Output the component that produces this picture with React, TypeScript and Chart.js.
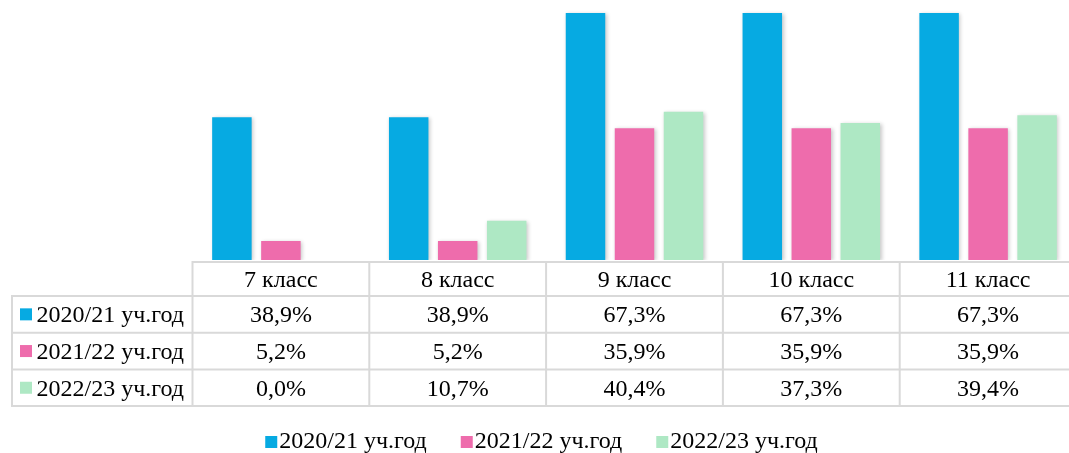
import React, { useEffect, useRef } from "react";
import { Chart, registerables } from "chart.js";

Chart.register(...registerables);

const categories = ["7 класс", "8 класс", "9 класс", "10 класс", "11 класс"];
const seriesLabels = ["2020/21 уч.год", "2021/22 уч.год", "2022/23 уч.год"];
const series2020 = [38.9, 38.9, 67.3, 67.3, 67.3];
const series2021 = [5.2, 5.2, 35.9, 35.9, 35.9];
const series2022 = [0.0, 10.7, 40.4, 37.3, 39.4];
const seriesColors = ["#06AAE2", "#EE6CAC", "#AEE8C4"];

const FONT = '"Liberation Serif", "Times New Roman", serif';
const fmt = (v: number) => v.toFixed(1).replace(".", ",") + "%";

const shadowPlugin = {
  id: "barShadow",
  beforeDatasetsDraw(chart: any) {
    const ctx = chart.ctx;
    ctx.save();
    ctx.shadowColor = "rgba(0,0,0,0.22)";
    ctx.shadowBlur = 4;
    ctx.shadowOffsetX = 1.5;
    ctx.shadowOffsetY = 1;
  },
  afterDatasetsDraw(chart: any) {
    chart.ctx.restore();
  },
};

const tablePlugin = {
  id: "dataTable",
  afterDraw(chart: any) {
    const ctx = chart.ctx;
    const xs = chart.scales.x;
    const n = categories.length;
    const colW = (chart.chartArea.right - chart.chartArea.left) / n;
    const top = 262;
    const headH = 34;
    const rowH = 36.7;
    const labelLeft = 12;
    const tableRight = chart.width;
    const rows = [series2020, series2021, series2022];
    const bottom = top + headH + rows.length * rowH;

    ctx.save();
    ctx.strokeStyle = "#d9d9d9";
    ctx.lineWidth = 2;
    ctx.beginPath();
    ctx.moveTo(chart.chartArea.left - 1, top);
    ctx.lineTo(tableRight, top);
    for (let r = 0; r <= rows.length; r++) {
      const y = top + headH + r * rowH;
      ctx.moveTo(labelLeft - 1, y);
      ctx.lineTo(tableRight, y);
    }
    ctx.moveTo(labelLeft, top + headH);
    ctx.lineTo(labelLeft, bottom);
    for (let i = 0; i <= n; i++) {
      const xx = i === n ? xs.getPixelForValue(n - 1) + colW / 2 : xs.getPixelForValue(i) - colW / 2;
      ctx.moveTo(xx, top);
      ctx.lineTo(xx, bottom);
    }
    ctx.stroke();

    ctx.fillStyle = "#000";
    ctx.textAlign = "center";
    ctx.textBaseline = "alphabetic";
    const fs = 24;
    ctx.font = `${fs}px ${FONT}`;
    for (let i = 0; i < n; i++) {
      const cx = xs.getPixelForValue(i);
      ctx.fillText(categories[i], cx, top + headH / 2 + 0.33 * fs);
      rows.forEach((vals, r) => {
        const cy = top + headH + r * rowH + rowH / 2;
        ctx.fillText(fmt(vals[i]), cx, cy + 0.33 * fs);
      });
    }
    ctx.textAlign = "left";
    rows.forEach((_, r) => {
      const cy = top + headH + r * rowH + rowH / 2;
      ctx.fillStyle = seriesColors[r];
      ctx.fillRect(20, cy - 6, 12, 12);
      ctx.fillStyle = "#000";
      ctx.fillText(seriesLabels[r], 36.5, cy + 0.33 * fs);
    });

    // legend
    const lfs = 24;
    ctx.font = `${lfs}px ${FONT}`;
    const gap = 34;
    const widths = seriesLabels.map((l) => 12 + 2 + ctx.measureText(l).width);
    const total = widths.reduce((a, b) => a + b, 0) + gap * (widths.length - 1);
    let x = 541.5 - total / 2;
    const ly = 442;
    seriesLabels.forEach((l, k) => {
      ctx.fillStyle = seriesColors[k];
      ctx.fillRect(x, ly - 6, 12, 12);
      ctx.fillStyle = "#000";
      ctx.fillText(l, x + 14, 447.7);
      x += widths[k] + gap;
    });
    ctx.restore();
  },
};

export default function App() {
  const ref = useRef<HTMLCanvasElement | null>(null);
  useEffect(() => {
    document.body.style.margin = "0";
    if (!ref.current) return;
    const chart = new Chart(ref.current, {
      type: "bar",
      data: {
        labels: categories,
        datasets: [series2020, series2021, series2022].map((d, k) => ({
          label: seriesLabels[k],
          data: d,
          backgroundColor: seriesColors[k],
          borderWidth: 0,
          categoryPercentage: 0.8314,
          barPercentage: 0.806,
        })),
      },
      options: {
        responsive: false,
        animation: false,
        events: [],
        layout: { padding: { left: 192.5, right: 3.5, top: 3, bottom: 193 } },
        plugins: { legend: { display: false }, tooltip: { enabled: false } },
        scales: {
          x: { display: false, offset: true, grid: { display: false } },
          y: { display: false, min: 0, max: 70 },
        },
      },
      plugins: [shadowPlugin, tablePlugin],
    });
    return () => chart.destroy();
  }, []);
  return (
    <div style={{ width: 1069, height: 453, overflow: "hidden", background: "#fff" }}>
      <canvas ref={ref} width={1080} height={453} style={{ display: "block" }} />
    </div>
  );
}
